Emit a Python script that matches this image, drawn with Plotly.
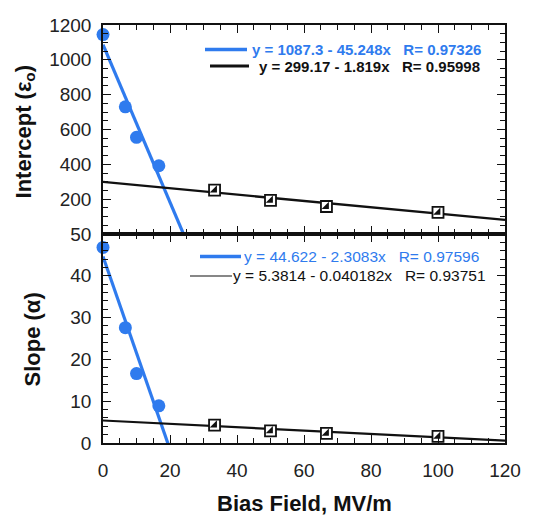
import plotly.graph_objects as go
from plotly.subplots import make_subplots

# ---- data ----
bias_fast = [0, 6.67, 10, 16.67]
bias_slow = [33.3, 50, 66.7, 100]
intercept_fast = [1145, 730, 555, 392]
intercept_slow = [252, 193, 158, 124]
slope_fast = [46.8, 27.6, 16.6, 8.9]
slope_slow = [4.3, 2.9, 2.3, 1.6]

# linear fits (a + b*x), as printed on the chart
fit_int_fast = (1087.3, -45.248, 0.97326)
fit_int_slow = (299.17, -1.819, 0.95998)
fit_slope_fast = (44.622, -2.3083, 0.97596)
fit_slope_slow = (5.3814, -0.040182, 0.93751)

x_range = [0, 120]
x_ticks = [0, 20, 40, 60, 80, 100, 120]
int_ticks = [200, 400, 600, 800, 1000, 1200]
slope_ticks = [0, 10, 20, 30, 40, 50]

BLUE = "#2F7BEE"
BLACK = "#111111"
FONT = "Liberation Sans, Arial, sans-serif"

fig = make_subplots(rows=2, cols=1, shared_xaxes=True, vertical_spacing=0)


def fit_line(fit):
    a, b, _ = fit
    return [a + b * x for x in x_range]


def add_panel(row, xf, yf, xs, ys, fit_f, fit_s, slow_width):
    fig.add_trace(go.Scatter(x=x_range, y=fit_line(fit_f), mode="lines",
                             line=dict(color=BLUE, width=3.2), showlegend=False), row=row, col=1)
    fig.add_trace(go.Scatter(x=x_range, y=fit_line(fit_s), mode="lines",
                             line=dict(color=BLACK, width=slow_width), showlegend=False), row=row, col=1)
    fig.add_trace(go.Scatter(x=xf, y=yf, mode="markers", cliponaxis=False,
                             marker=dict(symbol="circle", size=13, color=BLUE),
                             showlegend=False), row=row, col=1)
    fig.add_trace(go.Scatter(x=xs, y=ys, mode="markers", cliponaxis=False,
                             marker=dict(symbol="square", size=11, color="white",
                                         line=dict(color=BLACK, width=1.8)),
                             showlegend=False), row=row, col=1)
    fig.add_trace(go.Scatter(x=xs, y=ys, mode="markers", cliponaxis=False,
                             marker=dict(symbol="triangle-se", size=8, color=BLACK,
                                         line=dict(width=0)),
                             showlegend=False), row=row, col=1)


add_panel(1, bias_fast, intercept_fast, bias_slow, intercept_slow,
          fit_int_fast, fit_int_slow, 2.4)
add_panel(2, bias_fast, slope_fast, bias_slow, slope_slow,
          fit_slope_fast, fit_slope_slow, 2.2)

axis_common = dict(showline=True, linecolor=BLACK, linewidth=1.5, mirror="allticks",
                   ticks="inside", ticklen=8, tickwidth=1.3, tickcolor=BLACK,
                   showgrid=False, zeroline=False,
                   tickfont=dict(family=FONT, size=19, color="#222"))

fig.update_xaxes(range=x_range, tickvals=x_ticks,
                 minor=dict(dtick=5, ticks="inside", ticklen=5, tickcolor=BLACK, tickwidth=1.2),
                 **axis_common)
fig.update_xaxes(showticklabels=False, row=1, col=1)
fig.update_xaxes(ticklabelstandoff=9, row=2, col=1)

fig.update_yaxes(range=[0, 1200], tickvals=int_ticks,
                 minor=dict(dtick=50, ticks="inside", ticklen=5, tickcolor=BLACK, tickwidth=1.2),
                 ticklabelstandoff=6, row=1, col=1, **axis_common)
fig.update_yaxes(range=[0, 50], tickvals=slope_ticks,
                 minor=dict(dtick=2, ticks="inside", ticklen=5, tickcolor=BLACK, tickwidth=1.2),
                 ticklabelstandoff=6, row=2, col=1, **axis_common)

# ---- layout helpers (window pixel -> paper); page body has an 8px margin ----
OFF = 8
W, H = 551 - OFF, 523 - OFF
L, R, T, B = 103 - OFF, 46, 15 - OFF, 80
PW, PH = W - L - R, H - T - B


def px(x):
    return (x - OFF - L) / PW


def py(y):
    return (H - B - (y - OFF)) / PH


def legend_row(y, x0, x1, text_right, fit, color, lw, bold, size):
    a, b, r = fit
    txt = f"y = {a:g} - {abs(b):g}x   R= {r:.5f}"
    if bold:
        txt = f"<b>{txt}</b>"
    fig.add_shape(type="line", xref="paper", yref="paper",
                  x0=px(x0), x1=px(x1), y0=py(y), y1=py(y),
                  line=dict(color=color, width=lw))
    fig.add_annotation(xref="paper", yref="paper", x=px(text_right), y=py(y),
                       xanchor="right", yanchor="middle", showarrow=False,
                       text=txt, font=dict(family=FONT, size=size, color=color))


legend_row(40, 205, 247, 483, fit_int_fast, BLUE, 3.5, True, 15)
legend_row(57, 210, 249, 482, fit_int_slow, BLACK, 2.8, True, 15)
legend_row(252, 200, 241, 481, fit_slope_fast, BLUE, 3.5, False, 15.5)
legend_row(272, 190, 232, 488, fit_slope_slow, BLACK, 1.2, False, 15.5)

# axis titles
TITLE_FONT = dict(family=FONT, size=22, color="#111")
fig.add_annotation(xref="paper", yref="paper", x=px(25), y=py(124), textangle=-90,
                   showarrow=False, xanchor="center", yanchor="middle",
                   text="<b>Intercept (ε<sub>o</sub>)</b>", font=TITLE_FONT)
fig.add_annotation(xref="paper", yref="paper", x=px(32), y=py(337), textangle=-90,
                   showarrow=False, xanchor="center", yanchor="middle",
                   text="<b>Slope (α)</b>", font=TITLE_FONT)
fig.add_annotation(xref="paper", yref="paper", x=px(304), y=py(505),
                   showarrow=False, xanchor="center", yanchor="middle",
                   text="<b>Bias Field, MV/m</b>", font=TITLE_FONT)

fig.update_layout(width=W, height=H, margin=dict(l=L, r=R, t=T, b=B),
                  plot_bgcolor="white", paper_bgcolor="white", showlegend=False)

fig.write_html("out.html")
